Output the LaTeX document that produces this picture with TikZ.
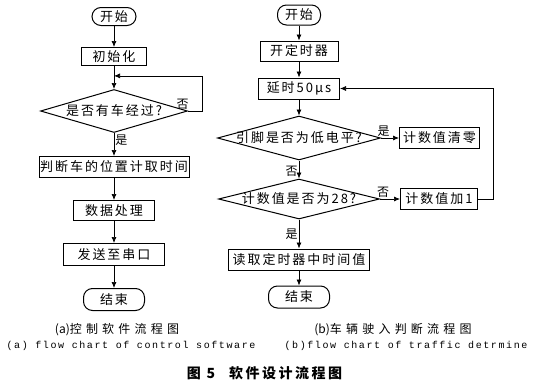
\documentclass[tikz,border=0pt]{standalone}
\usepackage{fontspec}
\setmainfont{Liberation Serif}
\newfontfamily\cjk[LetterSpace=15]{Noto Sans CJK SC}
\newfontfamily\cjklbl{Noto Sans CJK SC}
\newfontfamily\cjkcap[LetterSpace=35]{Noto Sans CJK SC}
\newfontfamily\cjkfig[LetterSpace=18]{Noto Sans CJK SC}
\newfontfamily\engcap[LetterSpace=16]{Liberation Mono}
\usetikzlibrary{arrows.meta,positioning,shapes.geometric}

\begin{document}
\begin{tikzpicture}[
    x=1pt, y=-1pt,
    node distance=22pt and 22pt,
    term/.style={draw, line width=1pt, rounded corners=9pt, font=\cjk\fontsize{13}{15}\selectfont, minimum height=20pt, inner sep=1pt},
    proc/.style={draw, line width=1pt, font=\cjk\fontsize{13}{15}\selectfont, minimum height=20pt, inner sep=1pt},
    cond/.style={draw, diamond, aspect=3.7, line width=1pt, inner xsep=-12pt, inner ysep=0pt, font=\cjk\fontsize{13}{15}\selectfont},
    lbl/.style={font=\cjklbl\fontsize{12}{14}\selectfont, inner sep=1pt},
    line/.style={-{Latex[length=6pt, width=5pt]}, line width=0.7pt}
  ]
    \useasboundingbox (0,0) rectangle (542,381);

    % (a) control software
    \node[term, minimum width=44pt, minimum height=18pt] (startA) at (114,16.5) {开始};
    \node[proc, below=21pt of startA, minimum width=65pt, minimum height=18pt] (init) {初始化};
    \node[cond, below=23pt of init, minimum width=147pt, minimum height=43pt] (car) {是否有车经过?};
    \node[proc, below=23pt of car, minimum width=150pt, minimum height=21pt] (locate) {判断车的位置计取时间};
    \node[proc, below=of locate, minimum width=81pt] (process) {数据处理};
    \node[proc, below=of process, minimum width=101pt, minimum height=22pt] (send) {发送至串口};
    \node[term, below=of send, minimum width=61pt, minimum height=22pt] (endA) {结束};

    \path (init.south) -- coordinate[pos=0.43] (back) (car.north);

    \draw[line] (startA) -- (init);
    \draw[line] (init) -- (car);
    \draw[line] (car.east) -- node[lbl, pos=0, anchor=south east, xshift=2pt] {否} ++(14pt,0) |- (back);
    \draw[line] (car) -- node[lbl, right, pos=0.3] {是} (locate);
    \draw[line] (locate) -- (process);
    \draw[line] (process) -- (send);
    \draw[line] (send) -- (endA);

    % (b) traffic determine
    \node[term, minimum width=43pt] (startB) at (299,15) {开始};
    \node[proc, below=15pt of startB, minimum width=78pt] (timer) {开定时器};
    \node[proc, below=16pt of timer, minimum width=81pt, minimum height=21pt] (delay) {延时50μs};
    \node[cond, below=16pt of delay, minimum width=163pt, minimum height=44pt] (pin) {引脚是否为低电平?};
    \node[proc, right=18pt of pin, minimum width=80pt, minimum height=21pt] (clear) {计数值清零};
    \node[cond, below=18pt of pin, minimum width=161pt, minimum height=40pt] (count) {计数值是否为28?};
    \node[proc, right=20pt of count, minimum width=77pt, minimum height=21pt] (inc) {计数值加1};
    \node[proc, below=29pt of count, minimum width=141pt, minimum height=21pt] (read) {读取定时器中时间值};
    \node[term, below=15pt of read, minimum width=61pt, minimum height=22pt] (endB) {结束};

    \draw[line] (startB) -- (timer);
    \draw[line] (timer) -- (delay);
    \draw[line] (delay) -- (pin);
    \draw[line] (pin) -- node[lbl, above, pos=0.15] {是} (clear);
    \draw[line] (pin) -- node[lbl, left, pos=0.6] {否} (count);
    \draw[line] (count) -- node[lbl, above, pos=0.15] {否} (inc);
    \draw[line] (count) -- node[lbl, left, pos=0.5] {是} (read);
    \draw[line] (read) -- (endB);
    \draw[line] (inc.east) -- ++(15pt,0) |- (delay.east);

    % captions
    \node[font=\cjkcap\fontsize{12}{14}\selectfont] (capA) at (117,330) {{\cjklbl(a)}控制软件流程图};
    \node[font=\engcap\fontsize{10}{12}\selectfont] (engA) at (131,345.5) {(a) flow chart of control software};
    \node[font=\cjkcap\fontsize{12}{14}\selectfont] (capB) at (393,330) {{\cjklbl(b)}车辆驶入判断流程图};
    \node[font=\engcap\fontsize{10}{12}\selectfont] (engB) at (406,345.5) {(b)flow chart of traffic detrmine};
    \node[font=\cjkfig\bfseries\fontsize{14}{16}\selectfont] (fig) at (264.5,373) {图 5\quad 软件设计流程图};
  \end{tikzpicture}
\end{document}
